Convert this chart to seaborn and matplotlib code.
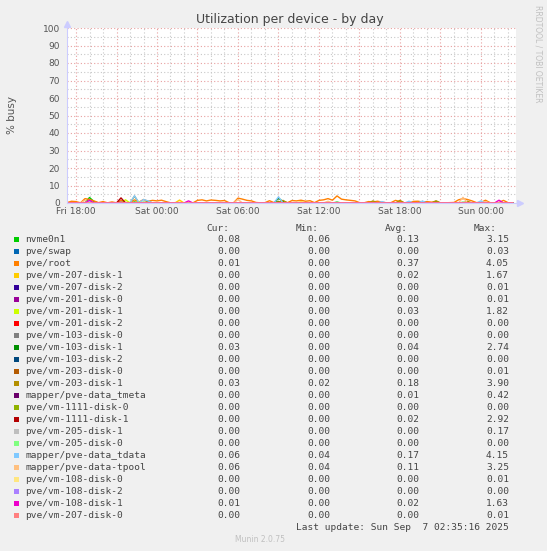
import matplotlib
matplotlib.use('Agg')
import matplotlib.pyplot as plt
import pandas as pd
import seaborn as sns
from matplotlib.patches import Rectangle

# legend rows as printed by munin
devices = ['nvme0n1', 'pve/swap', 'pve/root', 'pve/vm-207-disk-1', 'pve/vm-207-disk-2',
           'pve/vm-201-disk-0', 'pve/vm-201-disk-1', 'pve/vm-201-disk-2', 'pve/vm-103-disk-0',
           'pve/vm-103-disk-1', 'pve/vm-103-disk-2', 'pve/vm-203-disk-0', 'pve/vm-203-disk-1',
           'mapper/pve-data_tmeta', 'pve/vm-1111-disk-0', 'pve/vm-1111-disk-1', 'pve/vm-205-disk-1',
           'pve/vm-205-disk-0', 'mapper/pve-data_tdata', 'mapper/pve-data-tpool', 'pve/vm-108-disk-0',
           'pve/vm-108-disk-2', 'pve/vm-108-disk-1', 'pve/vm-207-disk-0']
colors = ['#00CC00', '#0066B3', '#FF8000', '#FFCC00', '#330099', '#990099', '#CCFF00', '#FF0000',
          '#808080', '#008F00', '#00487D', '#B35A00', '#B38F00', '#6B006B', '#8FB300', '#B30000',
          '#BEBEBE', '#80FF80', '#80C9FF', '#FFC080', '#FFE680', '#AA80FF', '#EE00CC', '#FF8080']
cur_vals = [0.08, 0.00, 0.01, 0.00, 0.00, 0.00, 0.00, 0.00, 0.00, 0.03, 0.00, 0.00,
            0.03, 0.00, 0.00, 0.00, 0.00, 0.00, 0.06, 0.06, 0.00, 0.00, 0.01, 0.00]
min_vals = [0.06, 0.00, 0.00, 0.00, 0.00, 0.00, 0.00, 0.00, 0.00, 0.00, 0.00, 0.00,
            0.02, 0.00, 0.00, 0.00, 0.00, 0.00, 0.04, 0.04, 0.00, 0.00, 0.00, 0.00]
avg_vals = [0.13, 0.00, 0.37, 0.02, 0.00, 0.00, 0.03, 0.00, 0.00, 0.04, 0.00, 0.00,
            0.18, 0.01, 0.00, 0.02, 0.00, 0.00, 0.17, 0.11, 0.00, 0.00, 0.02, 0.00]
max_vals = [3.15, 0.03, 4.05, 1.67, 0.01, 0.01, 1.82, 0.00, 0.00, 2.74, 0.00, 0.01,
            3.90, 0.42, 0.00, 2.92, 0.17, 0.00, 4.15, 3.25, 0.01, 0.00, 1.63, 0.01]

# samples every 20 min, starting Fri 17:20 (hours counted from Fri 00:00)
start_hour = 17 + 20 / 60
n_samples = 100
tick_hours = [18, 24, 30, 36, 42, 48]
tick_labels = ['Fri 18:00', 'Sat 00:00', 'Sat 06:00', 'Sat 12:00', 'Sat 18:00', 'Sun 00:00']

root_values = [0.2, 1.0, 0.8, 0.1, 2.5, 2.0, 1.2, 0.2, 0.8, 0.1,
               0.6, 0.1, 1.5, 0.3, 0.2, 1.8, 0.5, 2.0, 1.0, 1.5,
               1.2, 1.6, 0.8, 0.1, 0.2, 0.3, 0.1, 0.2, 0.1, 1.5,
               1.8, 1.2, 1.7, 1.5, 1.2, 1.4, 0.2, 0.1, 2.8, 2.2,
               1.5, 1.2, 0.3, 0.1, 0.2, 1.3, 0.2, 0.5, 0.8, 0.2,
               1.4, 1.2, 1.6, 1.0, 1.3, 0.2, 1.5, 1.8, 2.5, 1.6,
               4.05, 2.2, 1.8, 1.5, 1.2, 0.2, 0.1, 0.8, 0.6, 1.0,
               0.5, 0.1, 0.2, 1.5, 0.8, 0.1, 0.2, 0.9, 1.0, 0.6,
               0.8, 0.5, 0.7, 0.1, 0.1, 0.2, 0.3, 1.8, 2.5, 2.0,
               1.2, 0.2, 0.3, 1.6, 0.2, 0.1, 0.3, 1.5, 0.2, 0.01]

# the other devices sit at ~0 apart from a few peaks {sample index: % busy}
nvme_peaks = {5: 3.15, 6: 0.8, 15: 0.6, 17: 0.4, 47: 0.9, 60: 0.5, 88: 0.4}
swap_peaks = {30: 0.03}
vm207d1_peaks = {5: 1.0, 25: 1.67, 52: 0.6}
vm207d2_peaks = {40: 0.01}
vm201d0_peaks = {12: 0.01}
vm201d1_peaks = {5: 1.0, 13: 1.82, 16: 0.8}
vm103d1_peaks = {47: 2.74, 48: 0.8, 82: 0.6}
vm203d0_peaks = {34: 0.01}
vm203d1_peaks = {15: 3.90, 18: 1.0, 48: 1.5, 68: 1.2, 74: 1.5, 79: 0.9, 82: 1.3, 89: 1.0}
tmeta_peaks = {12: 0.42, 47: 0.3}
vm1111d1_peaks = {12: 2.92}
vm205d1_peaks = {47: 0.17}
tdata_peaks = {5: 1.0, 15: 4.15, 17: 2.0, 18: 1.2, 47: 3.5, 70: 0.8, 76: 1.0, 79: 1.1, 92: 1.2}
tpool_peaks = {4: 1.5, 38: 2.0, 58: 1.0, 88: 3.25, 93: 0.8}
vm108d0_peaks = {60: 0.01}
vm108d1_peaks = {5: 1.63, 27: 1.2, 96: 1.6}
vm207d0_peaks = {88: 0.01}

peaks = {
    'nvme0n1': nvme_peaks, 'pve/swap': swap_peaks, 'pve/vm-207-disk-1': vm207d1_peaks,
    'pve/vm-207-disk-2': vm207d2_peaks, 'pve/vm-201-disk-0': vm201d0_peaks,
    'pve/vm-201-disk-1': vm201d1_peaks, 'pve/vm-103-disk-1': vm103d1_peaks,
    'pve/vm-203-disk-0': vm203d0_peaks, 'pve/vm-203-disk-1': vm203d1_peaks,
    'mapper/pve-data_tmeta': tmeta_peaks, 'pve/vm-1111-disk-1': vm1111d1_peaks,
    'pve/vm-205-disk-1': vm205d1_peaks, 'mapper/pve-data_tdata': tdata_peaks,
    'mapper/pve-data-tpool': tpool_peaks, 'pve/vm-108-disk-0': vm108d0_peaks,
    'pve/vm-108-disk-1': vm108d1_peaks, 'pve/vm-207-disk-0': vm207d0_peaks,
}

rows = []
for dev in devices:
    for i in range(n_samples):
        if dev == 'pve/root':
            v = root_values[i]
        else:
            v = peaks.get(dev, {}).get(i, 0.0)
        rows.append({'hour': start_hour + i / 3, 'busy': v, 'device': dev})
data = pd.DataFrame(rows)

# figure, munin style
W, H = 547, 551
bg = '#F0F0F0'
txt = '#555555'
fig = plt.figure(figsize=(W / 100, H / 100), dpi=100, facecolor=bg)
x0, x1, y0, y1 = 67, 516, 28, 203
ax = fig.add_axes([x0 / W, 1 - y1 / H, (x1 - x0) / W, (y1 - y0) / H])
ax.set_facecolor('white')

sns.lineplot(data=data, x='hour', y='busy', hue='device', hue_order=devices,
             palette=dict(zip(devices, colors)), legend=False, linewidth=1, ax=ax)

ax.set_xlim(start_hour, start_hour + (x1 - x0) / 13.5)
ax.set_ylim(0, 100)
ax.set_xticks(range(18, 51, 3))
ax.set_xticklabels([tick_labels[tick_hours.index(h)] if h in tick_hours else '' for h in range(18, 51, 3)])
ax.set_xticks(range(18, 51), minor=True)
ax.set_yticks(range(0, 101, 10))
ax.set_yticks(range(0, 101, 5), minor=True)
ax.grid(which='major', color='#E8A0A0', linestyle=(0, (1, 2)), linewidth=0.8)
ax.grid(which='minor', color='#C8C8C8', linestyle=(0, (1, 2)), linewidth=0.8)
ax.set_axisbelow(True)
ax.tick_params(which='both', length=0, labelsize=6.5, colors=txt)
ax.tick_params(axis='y', pad=5)
ax.tick_params(axis='x', pad=3)
ax.set_xlabel('')
ax.set_ylabel('')
for s in ['top', 'right']:
    ax.spines[s].set_visible(False)
for s in ['left', 'bottom']:
    ax.spines[s].set_color('#CCCCFF')
ax.plot([0], [1.025], marker='^', ms=4, color='#CCCCFF', transform=ax.transAxes, clip_on=False)
ax.plot([1.008], [0], marker='>', ms=4, color='#CCCCFF', transform=ax.transAxes, clip_on=False)


def fx(px):
    return px / W


def fy(py):
    return 1 - py / H


fig.text(fx(290), fy(19), 'Utilization per device - by day', ha='center', va='center',
         fontsize=9, color='#444444')
fig.text(fx(12), fy(115), '% busy', rotation=90, ha='center', va='center', fontsize=7.5, color=txt)
fig.text(fx(538), fy(5), 'RRDTOOL / TOBI OETIKER', rotation=270, ha='center', va='top',
         fontsize=5.5, color='#C0C0C0')

mono = dict(family='DejaVu Sans Mono', fontsize=6.8, color='#444444', va='center')
for hx, name in zip([206, 296, 385, 474], ['Cur:', 'Min:', 'Avg:', 'Max:']):
    fig.text(fx(hx), fy(228.5), name, ha='left', **mono)
for k, dev in enumerate(devices):
    ry = 239.5 + 12.02 * k
    fig.add_artist(Rectangle((fx(13.5), fy(ry + 2.5)), 5 / W, 5 / H, transform=fig.transFigure,
                             facecolor=colors[k], edgecolor='none'))
    fig.text(fx(25), fy(ry), dev, ha='left', **mono)
    for vx, vals in zip([240, 330, 419, 509], [cur_vals, min_vals, avg_vals, max_vals]):
        fig.text(fx(vx), fy(ry), f'{vals[k]:.2f}', ha='right', **mono)
fig.text(fx(509), fy(527.5), 'Last update: Sun Sep  7 02:35:16 2025', ha='right', **mono)
fig.text(fx(260), fy(540), 'Munin 2.0.75', ha='center', va='center', fontsize=5.5, color='#C0C0C0')

fig.savefig('out.png', dpi=100, facecolor=bg)
